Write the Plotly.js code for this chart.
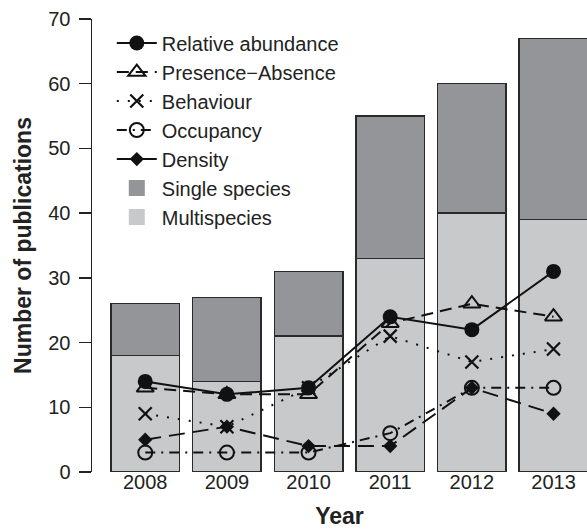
<!DOCTYPE html>
<html>
<head>
<meta charset="utf-8">
<script src="https://cdn.plot.ly/plotly-3.0.1.min.js"></script>
<style>html,body{margin:0;padding:0;background:#fff;}#chart{width:587px;height:529px;}</style>
</head>
<body>
<div id="chart"></div>
<script>
const years = ["2008", "2009", "2010", "2011", "2012", "2013"];
const multispecies = [18, 14, 21, 33, 40, 39];
const singleSpecies = [8, 13, 10, 22, 20, 28];
const relativeAbundance = [14, 12, 13, 24, 22, 31];
const presenceAbsence = [13, 12, 12, 23, 26, 24];
const behaviour = [9, 7, 13, 21, 17, 19];
const occupancy = [3, 3, 3, 6, 13, 13];
const density = [5, 7, 4, 4, 13, 9];
const yTicks = [0, 10, 20, 30, 40, 50, 60, 70];

const FONT = "Liberation Sans, Arial, Helvetica, sans-serif";
const barLine = {color: "#2a2a2a", width: 1.5};
const nulls = years.map(() => null);

const traces = [
  {type: "bar", x: years, y: multispecies, name: "Multispecies", showlegend: false,
   marker: {color: "#c8c9cb", line: barLine}},
  {type: "bar", x: years, y: singleSpecies, name: "Single species", showlegend: false,
   marker: {color: "#939598", line: barLine}},
  {type: "scatter", mode: "lines+markers", x: years, y: density, name: "Density", legendrank: 5,
   line: {color: "#111", width: 2, dash: "16px,8px"},
   marker: {symbol: "diamond", size: 11, color: "#111"}},
  {type: "scatter", mode: "lines+markers", x: years, y: occupancy, name: "Occupancy", legendrank: 4,
   line: {color: "#111", width: 2, dash: "10px,6px,2px,6px"},
   marker: {symbol: "circle-open", size: 14, color: "#111", line: {width: 2}}},
  {type: "scatter", mode: "lines+markers", x: years, y: behaviour, name: "Behaviour", legendrank: 3,
   line: {color: "#111", width: 2, dash: "2px,9px"},
   marker: {symbol: "x-thin-open", size: 13, color: "#111", line: {width: 2.2}}},
  {type: "scatter", mode: "lines+markers", x: years, y: presenceAbsence, name: "Presence\u2212Absence", legendrank: 2,
   line: {color: "#111", width: 2, dash: "12px,7px"},
   marker: {symbol: "triangle-up-open", size: 15, color: "#111", line: {width: 2}}},
  {type: "scatter", mode: "lines+markers", x: years, y: relativeAbundance, name: "Relative abundance", legendrank: 1,
   line: {color: "#111", width: 2},
   marker: {symbol: "circle", size: 15, color: "#111"}},
  {type: "scatter", mode: "markers", x: years, y: nulls, name: "Single species", legendrank: 6,
   marker: {symbol: "square", size: 19, color: "#939598"}},
  {type: "scatter", mode: "markers", x: years, y: nulls, name: "Multispecies", legendrank: 7,
   marker: {symbol: "square", size: 19, color: "#c8c9cb"}}
];

const layout = {
  width: 587, height: 529,
  margin: {l: 92, r: 0, t: 19, b: 57, pad: 0},
  paper_bgcolor: "#fff", plot_bgcolor: "#fff",
  font: {family: FONT, size: 20, color: "#222"},
  barmode: "stack", bargap: 0.16,
  showlegend: true,
  legend: {x: 0.04, xanchor: "left", y: 0.99, yanchor: "top", bgcolor: "rgba(0,0,0,0)",
           traceorder: "normal",
           font: {family: FONT, size: 20, color: "#222"}, itemwidth: 40, tracegroupgap: 0},
  xaxis: {type: "category", range: [-0.652, 5.41], showline: false, showgrid: false, zeroline: false,
          ticks: "", ticklabelstandoff: -4, tickfont: {family: FONT, size: 20, color: "#222"},
          title: {text: "<b>Year</b>", font: {family: FONT, size: 23, color: "#222"}, standoff: 22}},
  yaxis: {range: [0, 70], tickvals: yTicks, showline: true, linecolor: "#222", linewidth: 1.5,
          showgrid: false, zeroline: false, ticks: "outside", ticklen: 12, tickwidth: 1.5, tickcolor: "#222",
          ticklabelstandoff: 4,
          tickfont: {family: FONT, size: 20, color: "#222"},
          title: {text: "<b>Number of publications</b>", font: {family: FONT, size: 23, color: "#222"}, standoff: 10}}
};

Plotly.newPlot("chart", traces, layout, {displayModeBar: false, staticPlot: true});
</script>
</body>
</html>
